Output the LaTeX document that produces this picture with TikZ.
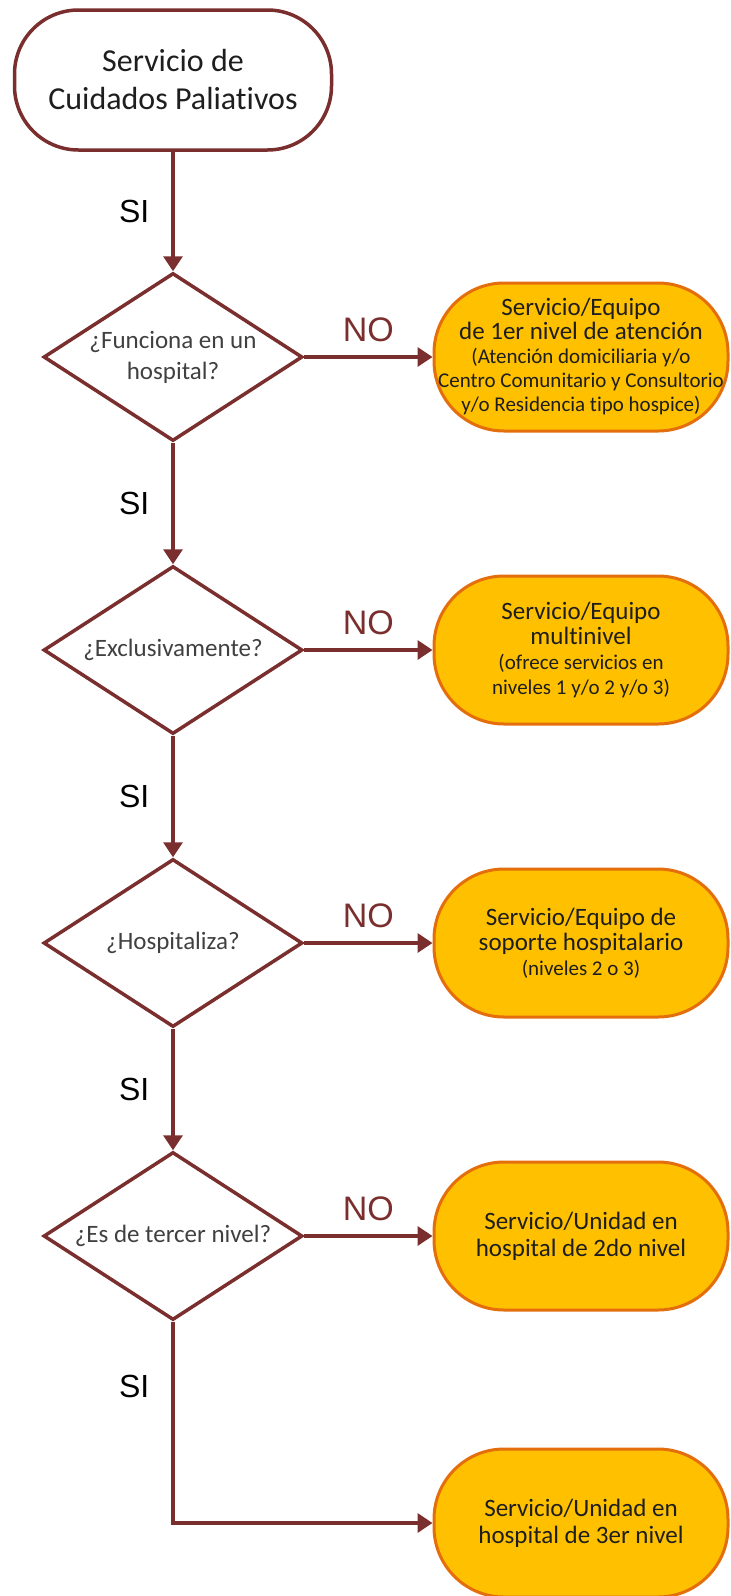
\documentclass[tikz,border=0pt]{standalone}
\usepackage{fontspec}
\setmainfont{Carlito}[Ligatures=NoCommon]
\newfontfamily\arialfont{Liberation Sans}
\usepackage{xcolor}
\usetikzlibrary{arrows.meta,shapes.geometric}

\definecolor{granate}{RGB}{122,46,46}
\definecolor{naranja}{RGB}{255,192,0}
\definecolor{borde}{RGB}{228,110,12}
\definecolor{texto}{RGB}{30,30,30}
\newcommand{\nota}{\fontsize{21}{24}\selectfont}

\begin{document}
\begin{tikzpicture}[x=1pt, y=-1pt,
    inicio/.style={draw=granate, line width=3.5pt, rounded corners=64pt, minimum width=317pt, minimum height=140pt, align=center, text=texto, font=\fontsize{32}{38}\selectfont},
    pregunta/.style={draw=granate, line width=3.5pt, diamond, aspect=1.55, inner sep=0pt, minimum width=259pt, minimum height=168pt, align=center, text=texto!85, font=\fontsize{25}{31}\selectfont},
    servicio/.style={draw=borde, fill=naranja, line width=3pt, rounded corners=70pt, inner sep=0pt, minimum width=294pt, minimum height=148pt, align=center, text=texto, font=\fontsize{25}{25}\selectfont},
    flecha/.style={-{Triangle[length=15pt, width=19pt]}, line width=3.5pt, granate},
    si/.style={font=\arialfont\fontsize{32}{32}\selectfont, text=black, inner sep=0pt, left=22pt},
    no/.style={font=\arialfont\fontsize{34}{34}\selectfont, text=granate, inner sep=0pt, above=13pt}
]
\useasboundingbox (0,0) rectangle (731,1596);

\node[inicio] (inicio) at (173, 80) {Servicio de\\Cuidados Paliativos};

\node[pregunta] (d1) at (173, 357) {¿Funciona en un\\hospital?};
\node[pregunta] (d2) at (173, 650) {¿Exclusivamente?};
\node[pregunta] (d3) at (173, 943) {¿Hospitaliza?};
\node[pregunta] (d4) at (173, 1236) {¿Es de tercer nivel?};

\node[servicio, font=\fontsize{25}{24}\selectfont] (b1) at (581, 357) {Servicio/Equipo\\de 1er nivel de atención\\\nota (Atención domiciliaria y/o\\\nota Centro Comunitario y Consultorio\\\nota y/o Residencia tipo hospice)};
\node[servicio] (b2) at (581, 650) {Servicio/Equipo\\multinivel\\\nota (ofrece servicios en\\\nota niveles 1 y/o 2 y/o 3)};
\node[servicio] (b3) at (581, 943) {Servicio/Equipo de\\soporte hospitalario\\\nota (niveles 2 o 3)};
\node[servicio, font=\fontsize{25}{27}\selectfont] (b4) at (581, 1236) {Servicio/Unidad en\\hospital de 2do nivel};
\node[servicio, font=\fontsize{25}{27}\selectfont] (b5) at (581, 1523) {Servicio/Unidad en\\hospital de 3er nivel};

\draw[flecha] (inicio) -- node[si] (si1) {SI} (d1);
\draw[flecha] (d1) -- node[si] (si2) {SI} (d2);
\draw[flecha] (d2) -- node[si] (si3) {SI} (d3);
\draw[flecha] (d3) -- node[si] (si4) {SI} (d4);
\draw[flecha] (d4) |- node[si, pos=0.16] (si5) {SI} (b5);

\draw[flecha] (d1) -- node[no] (no1) {NO} (b1);
\draw[flecha] (d2) -- node[no] (no2) {NO} (b2);
\draw[flecha] (d3) -- node[no] (no3) {NO} (b3);
\draw[flecha] (d4) -- node[no] (no4) {NO} (b4);

\end{tikzpicture}
\end{document}
